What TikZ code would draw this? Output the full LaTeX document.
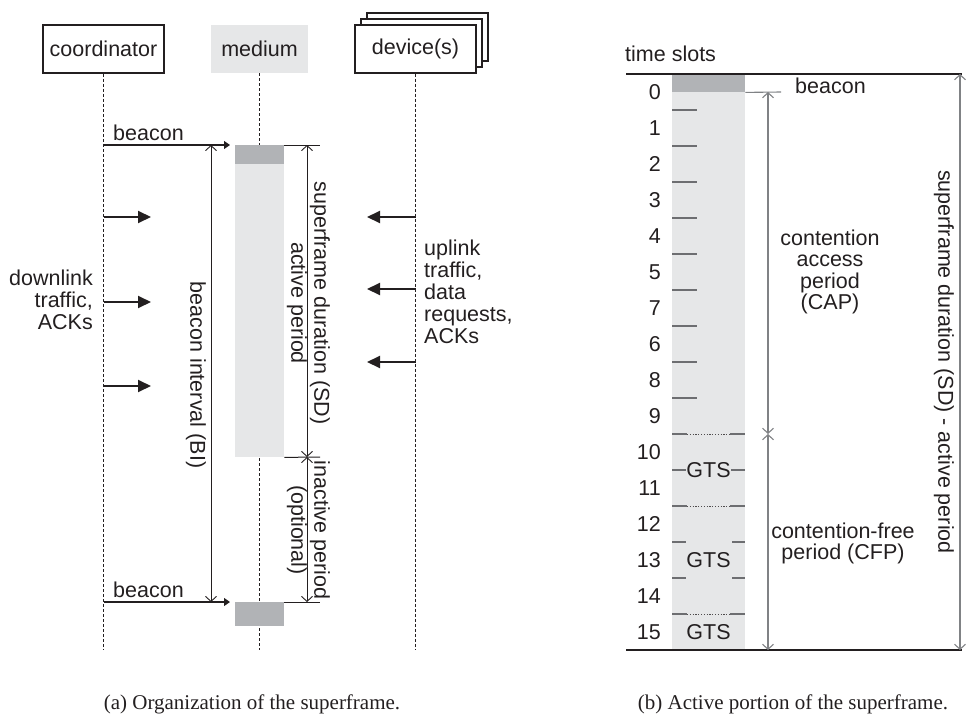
\documentclass[tikz,border=0pt]{standalone}
\usepackage{fontspec}
\setmainfont{Liberation Serif}
\setsansfont{Liberation Sans}
\usetikzlibrary{arrows.meta}
\definecolor{ink}{HTML}{231F20}
\definecolor{paleg}{HTML}{E6E7E8}
\definecolor{midg}{HTML}{B1B3B6}
\definecolor{tickg}{HTML}{6D6E71}
\definecolor{dimg}{HTML}{808285}

\begin{document}
\begin{tikzpicture}[x=1pt,y=-1pt,
  every node/.style={text=ink},
  sans/.style={font=\sffamily\fontsize{21.5}{22}\selectfont},
  capt/.style={font=\rmfamily\fontsize{21}{24}\selectfont, anchor=base, inner sep=0pt},
  party/.style={sans, draw=ink, line width=1.5pt, fill=white, minimum width=121, minimum height=48, inner sep=0pt},
  lifeline/.style={draw=ink, line width=0.9pt, dash pattern=on 3pt off 2pt},
  slab/.style={draw=none, inner sep=0pt, minimum width=49, anchor=north west},
  msg/.style={draw=ink, line width=1.2pt, -{Triangle[length=6pt,width=8pt]}},
  traffic/.style={draw=ink, line width=2pt, -{Triangle[length=13pt,width=12pt]}},
  span/.style={draw=ink, line width=0.9pt, {Straight Barb[length=5pt,width=11pt]}-{Straight Barb[length=5pt,width=11pt]}},
  gspan/.style={draw=dimg, line width=1.1pt, {Straight Barb[length=5pt,width=11pt]}-{Straight Barb[length=5pt,width=11pt]}},
  edge/.style={draw=ink, line width=1pt},
  tick/.style={draw=tickg, line width=1.3pt},
  lbl/.style={sans, inner sep=0pt},
]
\useasboundingbox (0,0) rectangle (967,717);

% ---------- (a) organization of the superframe ----------
% participants
\node[party] (coord) at (103.5,49) {coordinator};
\node[sans, fill=paleg, minimum width=97, minimum height=48, inner sep=0pt] (medium) at (259.5,49) {medium};
\node[party] (dev3) at (427.5,37) {};
\node[party] (dev2) at (421.5,43) {};
\node[party] (dev) at (415.5,49) {device(s)};

% lifelines
\coordinate (coordEnd) at (103.5,650);
\coordinate (medEnd) at (259.5,650);
\coordinate (devEnd) at (415.5,650);
\draw[lifeline] (coord.south) -- (coordEnd);
\draw[lifeline] (medium.south) -- (medEnd);
\draw[lifeline] (dev.south) -- (devEnd);

% medium occupancy
\node[slab, fill=midg, minimum height=19] (bcn1) at (235,145) {};
\node[slab, fill=paleg, minimum height=293] (act) at (235,164) {};
\node[slab, fill=midg, minimum height=24] (bcn2) at (235,602) {};

% beacon frames
\coordinate (cB1) at (103.5,145);
\coordinate (cB2) at (103.5,602);
\coordinate (mB1) at (230,145);
\coordinate (mB2) at (230,602);
\draw[msg] (cB1) -- (mB1);
\draw[msg] (cB2) -- (mB2);
\node[lbl, anchor=base west] (beaconA) at (113,140) {beacon};
\node[lbl, anchor=base west] (beaconB) at (113,597) {beacon};

% reference lines at the right of the medium
\coordinate (rTop) at (320,145);
\coordinate (rMid) at (320,457);
\coordinate (rBot) at (320,602);
\draw[edge] (bcn1.north east) -- (rTop);
\draw[edge] (act.south east) -- (rMid);
\draw[edge] (bcn2.north east) -- (rBot);

% durations
\coordinate (biTop) at (211,145);
\coordinate (biBot) at (211,602);
\coordinate (sdTop) at (307,145);
\coordinate (sdMid) at (307,457);
\coordinate (sdBot) at (307,602);
\draw[span] (biTop) -- (biBot);
\draw[span] (sdTop) -- (sdMid);
\draw[span] (sdMid) -- (sdBot);
\node[lbl, rotate=-90] (biLab) at (196,375) {beacon interval (BI)};
\node[lbl, rotate=-90, align=center, font=\sffamily\fontsize{21.5}{23}\selectfont] (sdLab) at (308.5,303) {superframe duration (SD)\\active period};
\node[lbl, rotate=-90, align=center, font=\sffamily\fontsize{21.5}{23}\selectfont] (inLab) at (308.5,530) {inactive period\\(optional)};

% downlink traffic
\foreach \y [count=\k] in {217,302,386} {
  \coordinate (dl\k) at (103.5,\y);
  \coordinate (dlEnd\k) at (151,\y);
  \draw[traffic] (dl\k) -- (dlEnd\k);
}
\node[lbl, anchor=east, align=right] (dlLab) at (93,300) {downlink\\traffic,\\ACKs};

% uplink traffic
\foreach \y [count=\k] in {217,289,362} {
  \coordinate (ul\k) at (415.5,\y);
  \coordinate (ulEnd\k) at (367,\y);
  \draw[traffic] (ul\k) -- (ulEnd\k);
}
\node[lbl, anchor=west, align=left] (ulLab) at (424,292) {uplink\\traffic,\\data\\requests,\\ACKs};

\node[capt] (capA) at (252,709) {(a) Organization of the superframe.};

% ---------- (b) active portion of the superframe ----------
\node[lbl, anchor=base west] (tsLab) at (625,62) {time slots};

\node[slab, fill=paleg, minimum width=73, minimum height=576] (col) at (672,74) {};
\node[slab, fill=midg, minimum width=73, minimum height=18] (colB) at (672,74) {};

\coordinate (tL) at (626,74);
\coordinate (tR) at (962,74);
\coordinate (bL) at (626,650);
\coordinate (bR) at (962,650);
\draw[draw=ink, line width=1.2pt] (tL) -- (tR);
\draw[draw=ink, line width=1.2pt] (bL) -- (bR);

% slot numbers
\foreach \n [count=\i from 0] in {0,1,2,3,4,5,7,6,8,9,10,11,12,13,14,15}
  \node[lbl, anchor=east] (slot\i) at (661,92+36*\i) {\n};

% slot boundaries inside the contention access period
\foreach \k in {1,...,9}
  \draw[tick] (672,74+36*\k) -- (697,74+36*\k);
% period boundaries
\foreach \y in {434,506,614} {
  \draw[tick] (672,\y) -- (687,\y);
  \draw[draw=ink!80, line width=1pt, dash pattern=on 1.2pt off 1.6pt] (687,\y) -- (730,\y);
  \draw[tick] (730,\y) -- (745,\y);
}
% guaranteed time slots
\draw[tick] (672,470) -- (686,470);
\draw[tick] (731,470) -- (745,470);
\foreach \y in {542,578} {
  \draw[tick] (672,\y) -- (686,\y);
  \draw[tick] (732,\y) -- (745,\y);
}
\node[lbl] (gts1) at (708.5,470) {GTS};
\node[lbl] (gts2) at (708.5,560) {GTS};
\node[lbl] (gts3) at (708.5,632) {GTS};

% beacon and periods
\coordinate (bcnR) at (781,92);
\draw[draw=dimg, line width=1.1pt] (colB.south east) -- (bcnR);
\node[lbl, anchor=base west] (beaconC) at (795,93) {beacon};

\coordinate (capTop) at (768,92);
\coordinate (capBot) at (768,434);
\coordinate (cfpBot) at (768,650);
\draw[gspan] (capTop) -- (capBot);
\draw[gspan] (capBot) -- (cfpBot);
\coordinate (sdrTop) at (960,74);
\coordinate (sdrBot) at (960,650);
\draw[gspan] (sdrTop) -- (sdrBot);

\node[lbl, align=center, font=\sffamily\fontsize{21.5}{21.5}\selectfont] (capLab) at (830,272) {contention\\access\\period\\(CAP)};
\node[lbl, align=center, font=\sffamily\fontsize{21.5}{21}\selectfont] (cfpLab) at (843,543) {contention-free\\period (CFP)};
\node[lbl, rotate=-90] (sdrLab) at (944,362) {superframe duration (SD) - active period};

\node[capt] (capB) at (793,709) {(b) Active portion of the superframe.};
\end{tikzpicture}
\end{document}
